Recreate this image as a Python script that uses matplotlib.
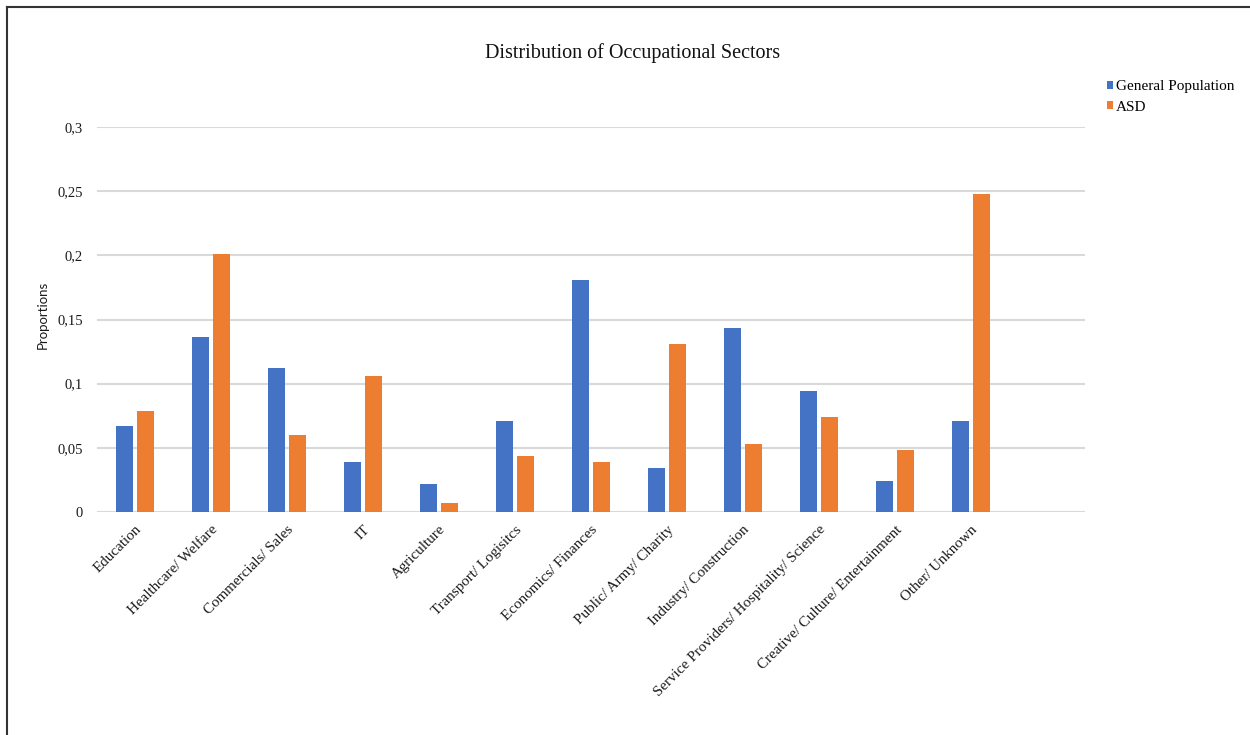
import matplotlib
matplotlib.use("Agg")
import matplotlib.pyplot as plt
import numpy as np
from matplotlib.lines import Line2D
from matplotlib.ticker import FuncFormatter

categories = ["Education", "Healthcare/ Welfare", "Commercials/ Sales", "IT",
              "Agriculture", "Transport/ Logisitcs", "Economics/ Finances",
              "Public/ Army/ Charity", "Industry/ Construction",
              "Service Providers/ Hospitality/ Science",
              "Creative/ Culture/ Entertainment", "Other/ Unknown"]
general_population = [0.067, 0.136, 0.112, 0.039, 0.022, 0.071, 0.181,
                      0.034, 0.143, 0.094, 0.024, 0.071]
asd = [0.079, 0.201, 0.060, 0.106, 0.007, 0.044, 0.039,
       0.131, 0.053, 0.074, 0.048, 0.248]
series_names = ["General Population", "ASD"]
yticks = [0, 0.05, 0.1, 0.15, 0.2, 0.25, 0.3]

SERIF = ["Liberation Serif", "DejaVu Serif"]
blue = "#4472C4"
orange = "#ED7D31"

fig = plt.figure(figsize=(12.5, 7.35), dpi=100)
ax = fig.add_axes([0.0776, 0.3034, 0.7904, 0.5238])

x = np.arange(len(categories))
w = 0.217
off = 0.139
ax.bar(x - off, general_population, w, color=blue, label=series_names[0], zorder=3)
ax.bar(x + off, asd, w, color=orange, label=series_names[1], zorder=3)

ax.set_xlim(-0.5, 12.5)
ax.set_ylim(0, 0.3)
ax.set_yticks(yticks)
ax.yaxis.set_major_formatter(FuncFormatter(lambda v, p: ("%g" % v).replace(".", ",")))
ax.grid(axis="y", color="#d9d9d9", linewidth=1.5, zorder=0)
ax.set_axisbelow(True)
for s in ax.spines.values():
    s.set_visible(False)
ax.tick_params(axis="both", length=0)
ax.tick_params(axis="y", pad=10)
for lab in ax.get_yticklabels():
    lab.set_fontfamily(SERIF)
    lab.set_fontsize(10.5)
    lab.set_color("#1a1a1a")

ax.set_xticks(x)
ax.set_xticklabels(categories, rotation=45, ha="right", rotation_mode="anchor",
                   fontsize=10.8, family=SERIF, color="#1a1a1a")
ax.tick_params(axis="x", pad=8)

fig.text(0.506, 0.928, "Distribution of Occupational Sectors", ha="center", va="center",
         fontsize=14.5, family=SERIF, color="#111111")
fig.text(0.034, 0.572, "Proportions", rotation=90, ha="center", va="center",
         fontsize=9.5, family=["Lato", "DejaVu Sans"], color="#1a1a1a")

leg = fig.legend(loc="upper left", bbox_to_anchor=(0.8856, 0.891), frameon=False,
                 prop={"family": SERIF, "size": 11.0}, handlelength=0.4,
                 handleheight=0.4, handletextpad=0.2, labelspacing=0.5,
                 borderaxespad=0, borderpad=0)

# figure border (top and left visible)
fig.add_artist(Line2D([0.0056, 1.0], [0.9905, 0.9905], transform=fig.transFigure,
                      color="#333333", linewidth=1.5))
fig.add_artist(Line2D([0.0056, 0.0056], [0.0, 0.9905], transform=fig.transFigure,
                      color="#333333", linewidth=1.5))

fig.savefig("out.png", dpi=100)
